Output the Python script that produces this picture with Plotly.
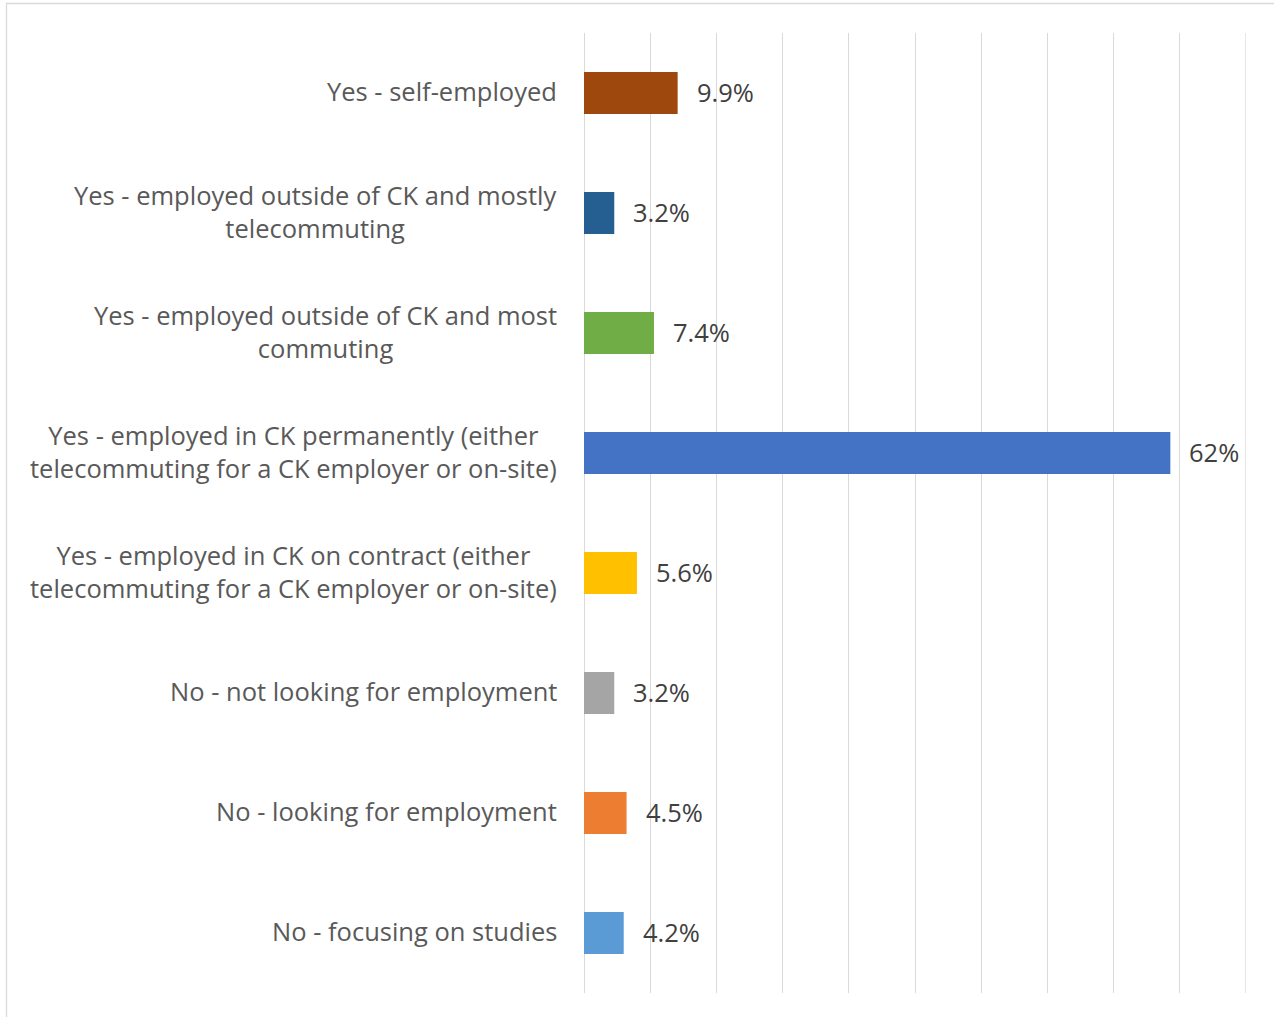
import plotly.graph_objects as go

categories = [
    "Yes - self-employed",
    "Yes - employed outside of CK and mostly<br>telecommuting",
    "Yes - employed outside of CK and most<br>commuting",
    "Yes - employed in CK permanently (either<br>telecommuting for a CK employer or on-site)",
    "Yes - employed in CK on contract (either<br>telecommuting for a CK employer or on-site)",
    "No - not looking for employment",
    "No - looking for employment",
    "No - focusing on studies",
]
values = [9.9, 3.2, 7.4, 62, 5.6, 3.2, 4.5, 4.2]
value_labels = ["9.9%", "3.2%", "7.4%", "62%", "5.6%", "3.2%", "4.5%", "4.2%"]
colors = ["#9E480E", "#255E91", "#70AD47", "#4472C4", "#FFC000", "#A5A5A5", "#ED7D31", "#5B9BD5"]
axis_max = 70
axis_step = 7

FONT = "Open Sans"
W, H = 1274, 1017
ML, MR, MT, MB = 584, 28, 33, 24

fig = go.Figure()
fig.add_trace(go.Bar(
    x=values, y=categories, orientation="h",
    marker=dict(color=colors, line=dict(width=0)),
    hoverinfo="skip",
))

annotations = []
for cat in categories:
    annotations.append(dict(
        x=0, xref="paper", y=cat, yref="y", text=cat, showarrow=False,
        xanchor="right", yanchor="middle", align="center", xshift=-25, yshift=2,
        font=dict(family=FONT, size=25.5, color="#595959"),
    ))
for cat, v, lab in zip(categories, values, value_labels):
    annotations.append(dict(
        x=v, xref="x", y=cat, yref="y", text=lab, showarrow=False,
        xanchor="left", yanchor="middle", xshift=17, yshift=1,
        font=dict(family=FONT, size=25.5, color="#404040"),
    ))

pw = W - ML - MR
ph = H - MT - MB
fig.update_layout(
    width=W, height=H,
    margin=dict(l=ML, r=MR, t=MT, b=MB),
    paper_bgcolor="white", plot_bgcolor="white",
    showlegend=False,
    bargap=0.65,
    annotations=annotations,
    xaxis=dict(range=[0, axis_max], dtick=axis_step, tick0=0, showgrid=True, gridcolor="#D9D9D9", gridwidth=1.3,
               zeroline=True, zerolinecolor="#D9D9D9", zerolinewidth=1.3,
               showticklabels=False, ticks="", fixedrange=True),
    yaxis=dict(autorange="reversed", showticklabels=False, ticks="", showgrid=False,
               zeroline=False, fixedrange=True),
    shapes=[
        dict(type="rect", xref="paper", yref="paper",
             x0=(6.5 - ML) / pw, x1=(1290 - ML) / pw,
             y0=(H - MB - 1030) / ph, y1=(H - MB - 3.5) / ph,
             line=dict(color="#D9D9D9", width=1.3), fillcolor="rgba(0,0,0,0)", layer="below"),
        dict(type="line", xref="x", yref="paper", x0=axis_max, x1=axis_max, y0=0, y1=1,
             line=dict(color="#D9D9D9", width=1.3), layer="below"),
    ],
)

fig.write_html(
    "out.html",
    config={"displayModeBar": False},
    post_script="document.body.style.margin='0';document.body.style.overflow='hidden';",
)
